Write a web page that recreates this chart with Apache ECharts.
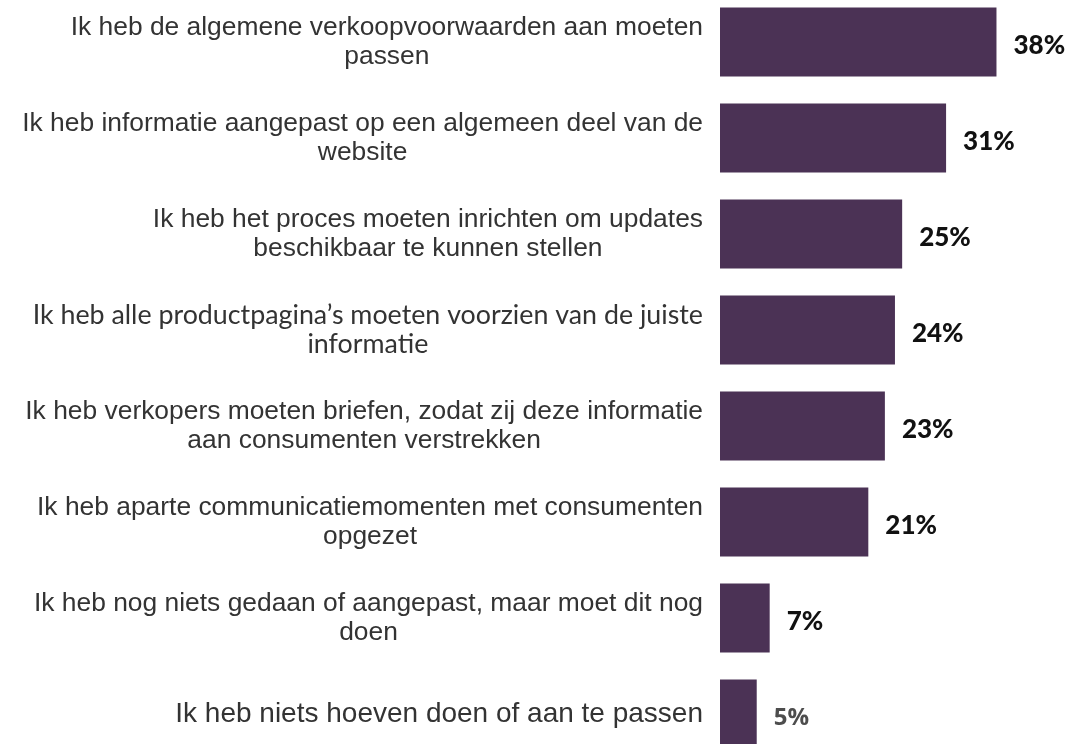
<!DOCTYPE html>
<html>
<head>
<meta charset="utf-8">
<script src="https://cdn.jsdelivr.net/npm/echarts@6/dist/echarts.min.js"></script>
<style>
  html, body { margin: 0; padding: 0; background: #ffffff; overflow: hidden; }
  #chart { width: 1071px; height: 768px; margin-top: -6px; }
</style>
</head>
<body>
<div id="chart"></div>
<script>
const categories = [
  "Ik heb de algemene verkoopvoorwaarden aan moeten\npassen",
  "Ik heb informatie aangepast op een algemeen deel van de\nwebsite",
  "Ik heb het proces moeten inrichten om updates\nbeschikbaar te kunnen stellen",
  "Ik heb alle productpagina’s moeten voorzien van de juiste\ninformatie",
  "Ik heb verkopers moeten briefen, zodat zij deze informatie\naan consumenten verstrekken",
  "Ik heb aparte communicatiemomenten met consumenten\nopgezet",
  "Ik heb nog niets gedaan of aangepast, maar moet dit nog\ndoen",
  "Ik heb niets hoeven doen of aan te passen"
];
const values = [38.4, 31.4, 25.3, 24.3, 22.9, 20.6, 6.9, 5.1];

const chart = echarts.init(document.getElementById('chart'), null, { renderer: 'canvas' });
chart.setOption({
  animation: false,
  backgroundColor: '#ffffff',
  grid: { left: 720, right: 5.4, top: 0, bottom: 0, containLabel: false },
  xAxis: {
    type: 'value', min: 0, max: 48, show: false,
    splitLine: { show: false }
  },
  yAxis: {
    type: 'category',
    inverse: true,
    data: categories,
    axisLine: { show: false },
    axisTick: { show: false },
    splitLine: { show: false },
    axisLabel: {
      margin: 17,
      formatter: function (v, i) {
        const key = i === 3 ? 'b' : (i === categories.length - 1 ? 'c' : 'a');
        return v.split('\n').map(function (l) { return '{' + key + '|' + l + '}'; }).join('\n');
      },
      rich: {
        a: { align: 'center', fontFamily: '"Liberation Sans", Arial, sans-serif', fontSize: 26.4, lineHeight: 29, color: '#333333' },
        b: { align: 'center', fontFamily: 'Lato, sans-serif', fontSize: 26.8, lineHeight: 29, color: '#333333' },
        c: { align: 'center', fontFamily: '"Liberation Sans", Arial, sans-serif', fontSize: 28, lineHeight: 29, color: '#333333' }
      }
    }
  },
  series: [{
    type: 'bar',
    data: values,
    barWidth: 69,
    itemStyle: { color: '#4b3255' },
    label: {
      show: true,
      position: 'right',
      distance: 17,
      formatter: function (p) {
        const key = p.dataIndex === values.length - 1 ? 'g' : 'd';
        return '{' + key + '|' + Math.round(p.value) + '%}';
      },
      rich: {
        d: { fontFamily: 'Lato, sans-serif', fontWeight: 900, fontSize: 26, color: '#111111', padding: [8, 0, 0, 0] },
        g: { fontFamily: '"Open Sans", sans-serif', fontWeight: 'bold', fontSize: 24, color: '#4d4d4d', padding: [8, 0, 0, 0] }
      }
    }
  }]
});
</script>
</body>
</html>
